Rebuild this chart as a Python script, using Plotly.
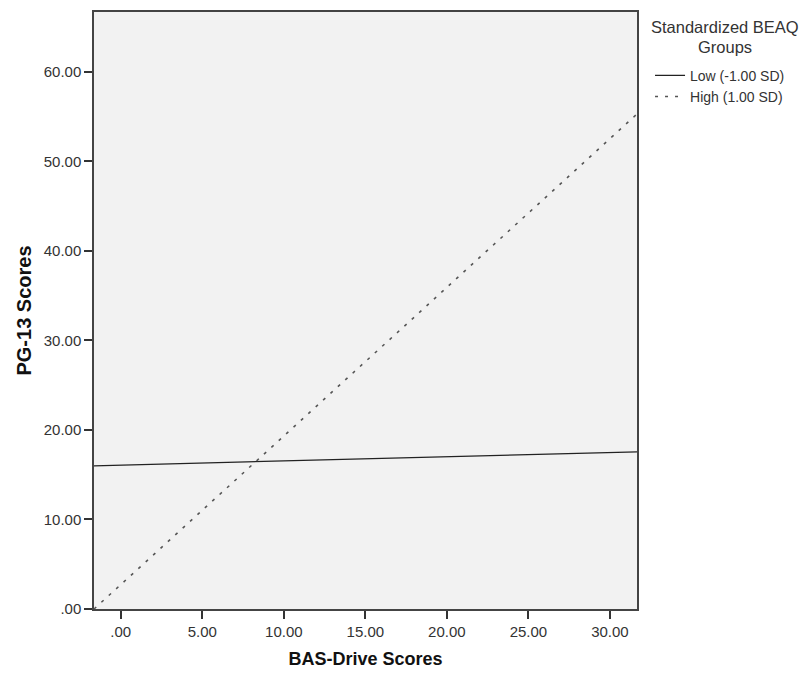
import plotly.graph_objects as go

# Data
x_ends = [-1.64, 31.66]
low_y = [16.0, 17.55]
high_y = [0.0, 55.3]
series_names = ["Low (-1.00 SD)", "High (1.00 SD)"]
legend_title_lines = ["Standardized BEAQ", "Groups"]
x_ticks = [0, 5, 10, 15, 20, 25, 30]
x_tick_labels = [".00", "5.00", "10.00", "15.00", "20.00", "25.00", "30.00"]
y_ticks = [0, 10, 20, 30, 40, 50, 60]
y_tick_labels = [".00", "10.00", "20.00", "30.00", "40.00", "50.00", "60.00"]

FONT = "Liberation Sans, Arial, sans-serif"

fig = go.Figure()
fig.add_trace(go.Scatter(x=x_ends, y=low_y, mode="lines", name=series_names[0],
                         line=dict(color="#222222", width=1.2)))
fig.add_trace(go.Scatter(x=x_ends, y=high_y, mode="lines", name=series_names[1],
                         line=dict(color="#555555", width=1.6, dash="3px,7px")))

axis_common = dict(showgrid=False, zeroline=False, showline=True, linecolor="#444444",
                   linewidth=1.5, mirror=True, ticks="outside", ticklen=8, tickwidth=1.5,
                   tickcolor="#333333", tickfont=dict(family=FONT, size=15, color="#333333"))

fig.update_xaxes(range=[-1.64, 31.66], tickvals=x_ticks, ticktext=x_tick_labels,
                 title=dict(text="<b>BAS-Drive Scores</b>", font=dict(family=FONT, size=18, color="#111111"), standoff=14),
                 **axis_common)
fig.update_yaxes(range=[0, 66.7], tickvals=y_ticks, ticktext=y_tick_labels,
                 title=dict(text="<b>PG-13 Scores</b>", font=dict(family=FONT, size=20, color="#111111"), standoff=7),
                 **axis_common)

for i, line in enumerate(legend_title_lines):
    fig.add_annotation(text=line, xref="paper", yref="paper", x=1.162, y=0.993 - i * 0.0335,
                       xanchor="center", yanchor="top", showarrow=False, align="center",
                       font=dict(family=FONT, size=16.5, color="#333333"))

fig.update_layout(
    width=801, height=667,
    margin=dict(l=86, r=172, t=2, b=66),
    plot_bgcolor="#f2f2f2", paper_bgcolor="white",
    font=dict(family=FONT, size=15, color="#333333"),
    legend=dict(x=1.024, y=0.92, xanchor="left", yanchor="top",
                font=dict(family=FONT, size=14, color="#333333"),
                itemwidth=30, tracegroupgap=0, bgcolor="rgba(0,0,0,0)"),
)

fig.write_html("out.html")
